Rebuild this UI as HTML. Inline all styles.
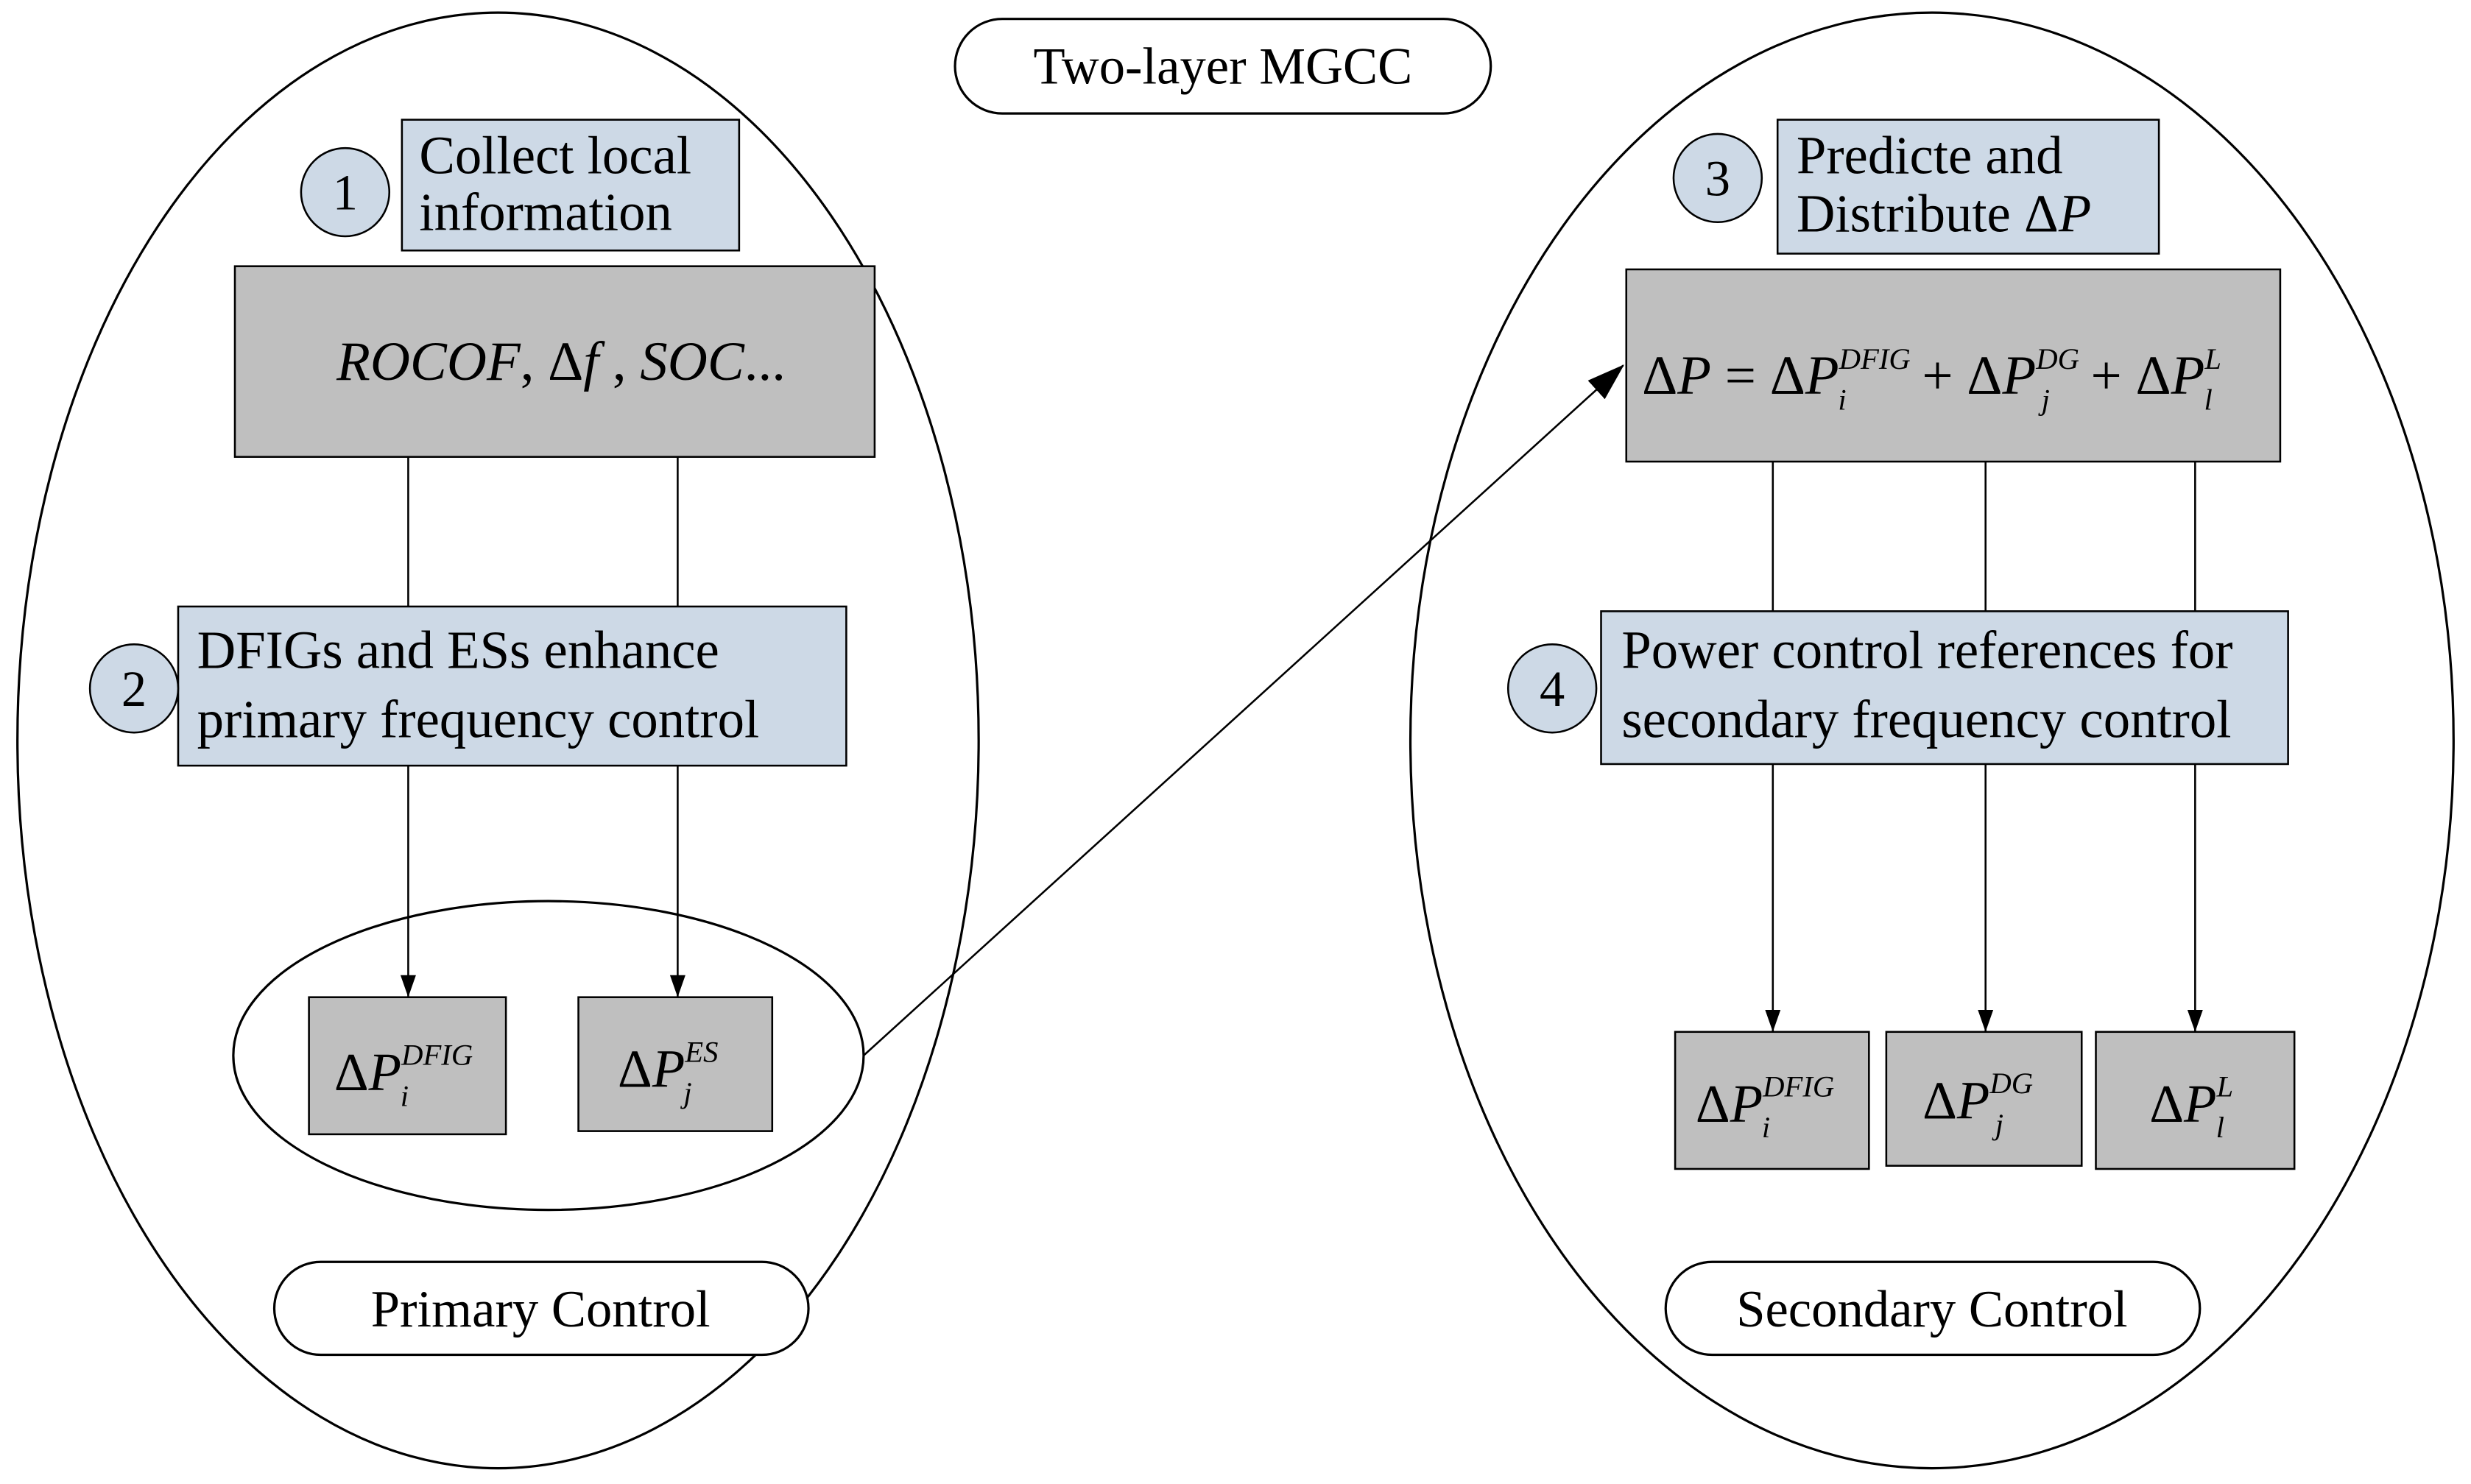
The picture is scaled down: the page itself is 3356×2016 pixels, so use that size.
<!DOCTYPE html>
<html><head><meta charset="utf-8"><style>
html,body{margin:0;padding:0;background:#fff;}
svg{display:block;}
text{font-family:"Liberation Serif",serif;fill:#000;}
.it{font-style:italic;}
</style></head><body>
<svg width="3356" height="2016" viewBox="0 0 1568 942" xmlns="http://www.w3.org/2000/svg">
<defs><marker id="ah" markerWidth="14" markerHeight="20" refX="20" refY="7" orient="auto" markerUnits="userSpaceOnUse" viewBox="0 0 20 14"><path d="M0,0 L20,7 L0,14 z" fill="#000"/></marker>
<marker id="ah2" markerWidth="24" markerHeight="16" refX="23" refY="8" orient="auto" markerUnits="userSpaceOnUse" viewBox="0 0 24 16"><path d="M0,0 L24,8 L0,16 z" fill="#000"/></marker></defs>
<g stroke="#000" stroke-width="1.5" fill="none">
<ellipse cx="316" cy="470" rx="305" ry="462"/>
<ellipse cx="1226" cy="470" rx="331" ry="462"/>
<rect x="606" y="12" width="340" height="60" rx="30" fill="#fff"/>
<ellipse cx="348" cy="670" rx="200" ry="98"/>
<rect x="174" y="801" width="339" height="59" rx="29.5" fill="#fff"/>
<rect x="1057" y="801" width="339" height="59" rx="29.5" fill="#fff"/>
</g>
<g stroke="#000" stroke-width="1.2">
<rect x="255" y="76" width="214" height="83" fill="#cdd9e6"/>
<rect x="149" y="169" width="406" height="121" fill="#bfbfbf"/>
<rect x="113" y="385" width="424" height="101" fill="#cdd9e6"/>
<rect x="196" y="633" width="125" height="87" fill="#bfbfbf"/>
<rect x="367" y="633" width="123" height="85" fill="#bfbfbf"/>
<rect x="1128" y="76" width="242" height="85" fill="#cdd9e6"/>
<rect x="1032" y="171" width="415" height="122" fill="#bfbfbf"/>
<rect x="1016" y="388" width="436" height="97" fill="#cdd9e6"/>
<rect x="1063" y="655" width="123" height="87" fill="#bfbfbf"/>
<rect x="1197" y="655" width="124" height="85" fill="#bfbfbf"/>
<rect x="1330" y="655" width="126" height="87" fill="#bfbfbf"/>
<circle cx="219" cy="122" r="28" fill="#cdd9e6"/>
<circle cx="85" cy="437" r="28" fill="#cdd9e6"/>
<circle cx="1090" cy="113" r="28" fill="#cdd9e6"/>
<circle cx="985" cy="437" r="28" fill="#cdd9e6"/>
<line x1="259" y1="290" x2="259" y2="385"/>
<line x1="430" y1="290" x2="430" y2="385"/>
<line x1="259" y1="486" x2="259" y2="633" marker-end="url(#ah)"/>
<line x1="430" y1="486" x2="430" y2="633" marker-end="url(#ah)"/>
<line x1="1125" y1="293" x2="1125" y2="388"/>
<line x1="1260" y1="293" x2="1260" y2="388"/>
<line x1="1393" y1="293" x2="1393" y2="388"/>
<line x1="1125" y1="485" x2="1125" y2="655" marker-end="url(#ah)"/>
<line x1="1260" y1="485" x2="1260" y2="655" marker-end="url(#ah)"/>
<line x1="1393" y1="485" x2="1393" y2="655" marker-end="url(#ah)"/>
<line x1="548" y1="670" x2="1030" y2="232" marker-end="url(#ah2)"/>
</g>
<g font-size="33">
<text x="776" y="53" text-anchor="middle">Two-layer MGCC</text>
<text x="343" y="842" text-anchor="middle">Primary Control</text>
<text x="1226" y="842" text-anchor="middle">Secondary Control</text>
</g>
<g font-size="32">
<text x="219" y="133" text-anchor="middle">1</text>
<text x="85" y="448" text-anchor="middle">2</text>
<text x="1090" y="124" text-anchor="middle">3</text>
<text x="985" y="448" text-anchor="middle">4</text>
</g>
<g font-size="34">
<text x="266" y="110">Collect local</text>
<text x="266" y="146">information</text>
<text x="1140" y="110">Predicte and</text>
<text x="1140" y="147">Distribute <tspan>Δ</tspan><tspan class="it">P</tspan></text>
<text x="125" y="424">DFIGs and ESs enhance</text>
<text x="125" y="468">primary frequency control</text>
<text x="1029" y="424">Power control references for</text>
<text x="1029" y="468">secondary frequency control</text>
</g>
<text x="356" y="241" text-anchor="middle" font-size="35"><tspan class="it">ROCOF</tspan>, Δ<tspan class="it">f</tspan> , <tspan class="it">SOC</tspan>...</text>
<text x="1042" y="250" font-size="35">Δ<tspan class="it">P</tspan> = Δ<tspan class="it">P</tspan><tspan class="it" font-size="19" dy="-16">DFIG</tspan><tspan class="it" font-size="19" dx="-46" dy="26">i</tspan><tspan dx="48" dy="-10">+ Δ</tspan><tspan class="it">P</tspan><tspan class="it" font-size="19" dy="-16">DG</tspan><tspan class="it" font-size="19" dx="-24" dy="26">j</tspan><tspan dx="26" dy="-10">+ Δ</tspan><tspan class="it">P</tspan><tspan class="it" font-size="19" dy="-16">L</tspan><tspan class="it" font-size="19" dx="-11" dy="26">l</tspan></text>
<text x="212" y="692" font-size="34">Δ<tspan class="it">P</tspan><tspan class="it" font-size="19" dy="-16">DFIG</tspan><tspan class="it" font-size="19" dx="-46" dy="26">i</tspan></text>
<text x="392" y="690" font-size="34">Δ<tspan class="it">P</tspan><tspan class="it" font-size="19" dy="-16">ES</tspan><tspan class="it" font-size="19" dx="-22" dy="26">j</tspan></text>
<text x="1076" y="712" font-size="34">Δ<tspan class="it">P</tspan><tspan class="it" font-size="19" dy="-16">DFIG</tspan><tspan class="it" font-size="19" dx="-46" dy="26">i</tspan></text>
<text x="1220" y="710" font-size="34">Δ<tspan class="it">P</tspan><tspan class="it" font-size="19" dy="-16">DG</tspan><tspan class="it" font-size="19" dx="-24" dy="26">j</tspan></text>
<text x="1364" y="712" font-size="34">Δ<tspan class="it">P</tspan><tspan class="it" font-size="19" dy="-16">L</tspan><tspan class="it" font-size="19" dx="-11" dy="26">l</tspan></text>
</svg>
</body></html>
